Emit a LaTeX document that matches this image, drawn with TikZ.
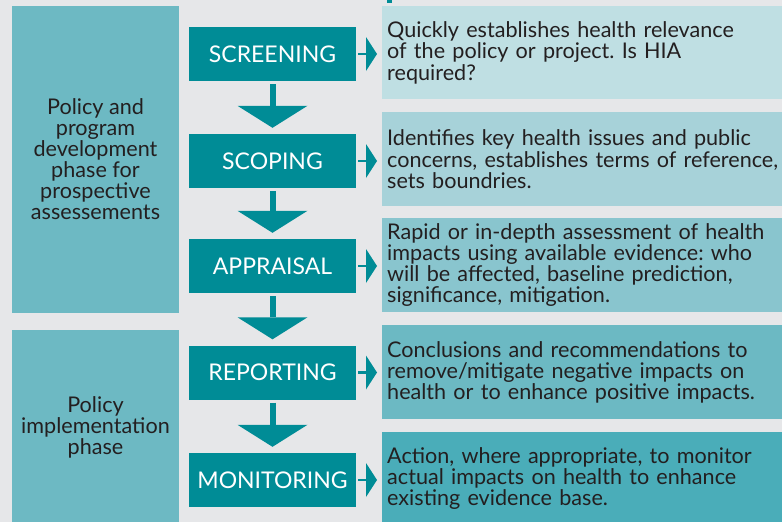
\documentclass[tikz,border=0pt]{standalone}
\usepackage{fontspec}
\setmainfont{Lato}
\frenchspacing
\usetikzlibrary{arrows.meta}
\definecolor{bg}{HTML}{E6E7E9}
\definecolor{tealx}{HTML}{008C96}
\definecolor{phasec}{HTML}{6DB9C3}
\definecolor{dA}{HTML}{BFDFE3}
\definecolor{dB}{HTML}{A7D2D9}
\definecolor{dC}{HTML}{89C5CE}
\definecolor{dD}{HTML}{6CB9C3}
\definecolor{dE}{HTML}{4AADB9}
\definecolor{ink}{HTML}{231F20}
\begin{document}
\begin{tikzpicture}[x=1pt,y=-1pt,
  stepbox/.style={fill=tealx, text=white, minimum width=167pt, minimum height=54pt,
    inner sep=0pt, font=\fontsize{23}{24}\selectfont},
  descbox/.style={anchor=north west, text width=395pt, inner xsep=5pt, inner ysep=0pt,
    align=left, text=ink, font=\fontsize{21.6}{21.2}\selectfont\frenchspacing},
  phasebox/.style={fill=phasec, minimum width=167pt, inner sep=0pt, anchor=north west},
  phasetext/.style={align=center, text=ink, font=\fontsize{21.6}{21}\selectfont},
  downarrow/.style={draw=tealx, line width=6pt, shorten <=3pt, shorten >=6pt,
    -{Triangle[length=22pt,width=70pt,line width=0pt]}},
  rightarrow/.style={draw=tealx, line width=2.5pt, shorten <=2pt, shorten >=5pt,
    -{Triangle[length=11pt,width=34pt,line width=0pt]}}
]
\useasboundingbox[fill=bg] (0,0) rectangle (782,522);
% small mark at top
\fill[tealx] (387,0) rectangle (392,3);
% phase boxes
\node[phasebox, minimum height=307pt] (p1) at (12,6) {};
\node[phasebox, minimum height=200pt] (p2) at (12,330) {};
\node[phasetext] (p1t) at (95.5,159) {Policy and\\program\\development\\phase for\\prospective\\assessements};
\node[phasetext] (p2t) at (95.5,427) {Policy\\implementation\\phase};
% steps
\node[stepbox] (s1) at (272.5,54) {SCREENING};
\node[stepbox] (s2) at (272.5,161) {SCOPING};
\node[stepbox] (s3) at (272.5,266) {APPRAISAL};
\node[stepbox] (s4) at (272.5,372.5) {REPORTING};
\node[stepbox] (s5) at (272.5,480) {MONITORING};
% descriptions
\node[descbox, fill=dA, minimum height=93pt] (d1) at (382,6)
  {Quickly establishes health relevance\\of the policy or project. Is HIA\\required?};
\node[descbox, fill=dB, minimum height=94pt] (d2) at (382,112)
  {Identifies key health issues and public\\concerns, establishes terms of reference,\\sets boundries.};
\node[descbox, fill=dC, minimum height=94pt] (d3) at (382,218)
  {Rapid or in-depth assessment of health\\impacts using available evidence: who\\will be affected, baseline prediction,\\significance, mitigation.};
\node[descbox, fill=dD, minimum height=94pt] (d4) at (382,325)
  {Conclusions and recommendations to\\remove/mitigate negative impacts on\\health or to enhance positive impacts.};
\node[descbox, fill=dE, minimum height=93pt] (d5) at (382,432)
  {Action, where appropriate, to monitor\\actual impacts on health to enhance\\existing evidence base.};
% down arrows
\draw[downarrow] (s1.south) -- (s2.north);
\draw[downarrow] (s2.south) -- (s3.north);
\draw[downarrow] (s3.south) -- (s4.north);
\draw[downarrow] (s4.south) -- (s5.north);
% right arrows
\foreach \i in {1,...,5}{
  \draw[rightarrow] (s\i.east) -- (s\i.east -| d\i.west);
}
\end{tikzpicture}
\end{document}
